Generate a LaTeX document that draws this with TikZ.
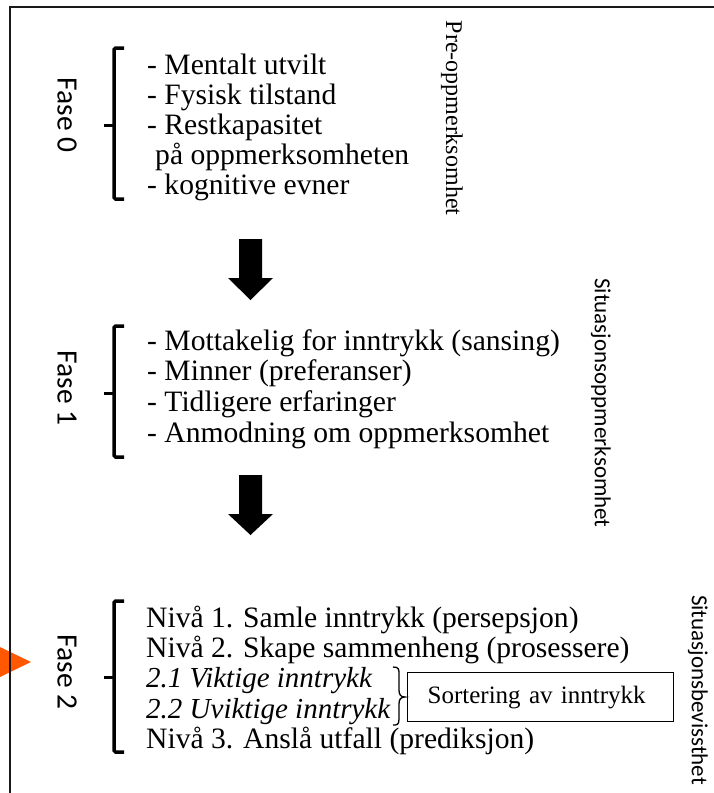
\documentclass[tikz,border=0pt]{standalone}
\usepackage{fontspec}
\setmainfont{Liberation Serif}
\newfontfamily\sansf{Carlito}
\definecolor{tri}{RGB}{255,88,0}
\definecolor{framec}{RGB}{25,25,25}
\begin{document}
\begin{tikzpicture}[x=1pt,y=-1pt,
  item/.style={anchor=base west, inner sep=0pt, font=\fontsize{29.6}{30}\selectfont},
  itemit/.style={item, font=\itshape\fontsize{29}{30}\selectfont},
  vlab/.style={rotate=-90, inner sep=0pt, font=\sansf\fontsize{29.5}{30}\selectfont},
  side/.style={rotate=-90, inner sep=0pt, font=\sansf\fontsize{23}{24}\selectfont},
  sideserif/.style={rotate=-90, inner sep=0pt, font=\fontsize{24}{25}\selectfont},
  brk/.style={line width=3.5pt, rounded corners=1.5pt},
  tick/.style={line width=3pt},
  blockarrow/.style={fill=black}
]
\useasboundingbox (0,0) rectangle (714,793);

% orange marker
\fill[tri] (-5,644.6) -- (31,662) -- (-5,679.4) -- cycle;
% frame
\draw[line width=2.2pt, framec] (10,800) -- (10,7) -- (720,7);

% ---------- Fase 0 ----------
\node[vlab] (f0) at (67,115) {Fase 0};
\draw[brk] (124,48) -- (114,48) -- (114,199) -- (124,199);
\draw[tick] (114,125) -- (104,125);
\node[item] (a1) at (147,74) {- Mentalt utvilt};
\node[item] (a2) at (147,104) {- Fysisk tilstand};
\node[item] (a3) at (147,134) {- Restkapasitet};
\node[item] (a4) at (155,164) {på oppmerksomheten};
\node[item] (a5) at (147,194) {- kognitive evner};
\node[sideserif] (s0) at (452,118) {Pre-oppmerksomhet};

% arrow 1
\fill[blockarrow] (239,239) -- (262,239) -- (262,278) -- (273,278) -- (250.5,300) -- (228,278) -- (239,278) -- cycle;

% ---------- Fase 1 ----------
\node[vlab] (f1) at (67,388) {Fase 1};
\draw[brk] (124,326) -- (114,326) -- (114,457) -- (124,457);
\draw[tick] (114,393) -- (104,393);
\node[item] (b1) at (147,350) {- Mottakelig for inntrykk (sansing)};
\node[item] (b2) at (147,380) {- Minner (preferanser)};
\node[item] (b3) at (147,411) {- Tidligere erfaringer};
\node[item] (b4) at (147,442) {- Anmodning om oppmerksomhet};
\node[side] (s1) at (601,403) {Situasjonsoppmerksomhet};

% arrow 2
\fill[blockarrow] (239,475) -- (262,475) -- (262,514) -- (273,514) -- (250.5,535) -- (228,514) -- (239,514) -- cycle;

% ---------- Fase 2 ----------
\node[vlab] (f2) at (67,672) {Fase 2};
\draw[brk] (124,601) -- (114,601) -- (114,752) -- (124,752);
\draw[tick] (114,677) -- (104,677);
\node[item] (c1) at (146,627) {Nivå 1. Samle inntrykk (persepsjon)};
\node[item] (c2) at (146,657) {Nivå 2. Skape sammenheng (prosessere)};
\node[itemit] (c3) at (146,687) {2.1 Viktige inntrykk};
\node[itemit] (c4) at (146,718) {2.2 Uviktige inntrykk};
\node[item] (c5) at (146,748) {Nivå 3. Anslå utfall (prediksjon)};
\node[side] (s2) at (698,690) {Situasjonsbevissthet};

% small brace
\draw[line width=1.3pt] (393,667) .. controls (399,667) and (399,669) .. (399,675) -- (399,690)
  .. controls (399,695) and (401,697) .. (405,697)
  .. controls (401,697) and (399,699) .. (399,704) -- (399,719)
  .. controls (399,725) and (397,725) .. (393,725);

% box
\node[draw, line width=1.3pt, anchor=north west, minimum width=266pt, minimum height=49pt,
  inner xsep=20pt, inner ysep=0pt, text width=226pt, align=left,
  font=\fontsize{25}{26}\selectfont] (sort) at (407,672) {Sortering av inntrykk};
\end{tikzpicture}
\end{document}
